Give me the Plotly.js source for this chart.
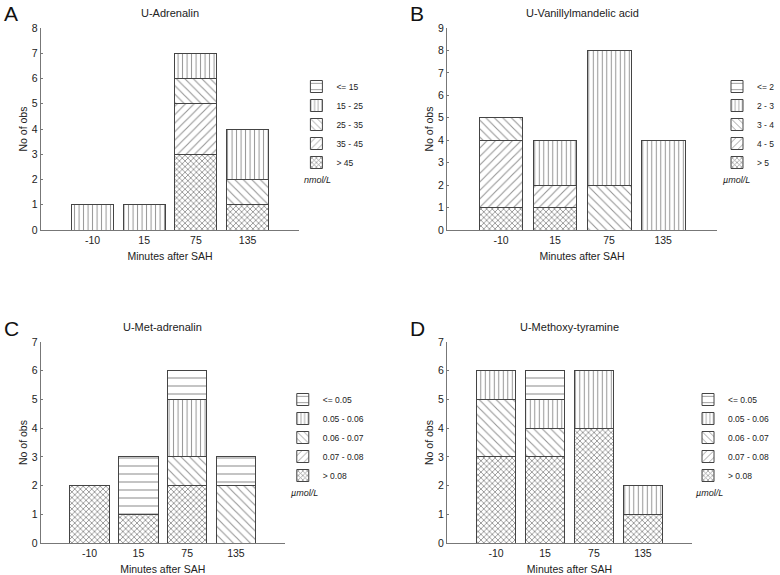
<!DOCTYPE html>
<html>
<head>
<meta charset="utf-8">
<script src="https://cdn.plot.ly/plotly-3.0.1.min.js"></script>
<style>
  html, body { margin: 0; padding: 0; background: #fff; }
  #plot { width: 780px; height: 575px; }
</style>
</head>
<body>
<div id="plot"></div>
<script>
// minutes after SAH, shared by the four panels
const categories = ['-10', '15', '75', '135'];

// bands listed bottom of stack first; the legend shows them reversed
const adrenalinLabels = ['> 45', '35 - 45', '25 - 35', '15 - 25', '<= 15'];
const adrenalinCounts = [
  [0, 0, 3, 1],
  [0, 0, 2, 0],
  [0, 0, 1, 1],
  [1, 1, 1, 2],
  [0, 0, 0, 0]
];

const vmaLabels = ['> 5', '4 - 5', '3 - 4', '2 - 3', '<= 2'];
const vmaCounts = [
  [1, 1, 0, 0],
  [3, 1, 0, 0],
  [1, 0, 2, 0],
  [0, 2, 6, 4],
  [0, 0, 0, 0]
];

const metLabels = ['> 0.08', '0.07 - 0.08', '0.06 - 0.07', '0.05 - 0.06', '<= 0.05'];
const metCounts = [
  [2, 1, 2, 0],
  [0, 0, 0, 0],
  [0, 0, 1, 2],
  [0, 0, 2, 0],
  [0, 2, 1, 1]
];

const mtyLabels = ['> 0.08', '0.07 - 0.08', '0.06 - 0.07', '0.05 - 0.06', '<= 0.05'];
const mtyCounts = [
  [3, 3, 4, 1],
  [0, 0, 0, 0],
  [2, 1, 0, 0],
  [1, 1, 2, 1],
  [0, 1, 0, 0]
];

//------------------------------------------------------------------------------

const font = 'Liberation Sans, Arial, sans-serif';
const ink = '#222';
// hatch per band, same order as the labels
const hatches = [
  { shape: 'x', size: 4, solidity: 0.4 },
  { shape: '/', size: 6, solidity: 0.18 },
  { shape: '\\', size: 6, solidity: 0.18 },
  { shape: '|', size: 4.5, solidity: 0.22 },
  { shape: '-', size: 8, solidity: 0.14 }
];

const panels = [
  { letter: 'A', title: 'U-Adrenalin', unit: 'nmol/L', labels: adrenalinLabels, counts: adrenalinCounts, ymax: 8,
    xd: [42, 308], yd: [28, 230], leg: [305, 72] },
  { letter: 'B', title: 'U-Vanillylmandelic acid', unit: 'µmol/L', labels: vmaLabels, counts: vmaCounts, ymax: 9,
    xd: [460, 738], yd: [28, 230], leg: [738, 72] },
  { letter: 'C', title: 'U-Met-adrenalin', unit: 'µmol/L', labels: metLabels, counts: metCounts, ymax: 7,
    xd: [42, 293], yd: [342, 543], leg: [291, 385] },
  { letter: 'D', title: 'U-Methoxy-tyramine', unit: 'µmol/L', labels: mtyLabels, counts: mtyCounts, ymax: 7,
    xd: [460, 712], yd: [342, 543], leg: [708, 385] }
];

const W = 780, H = 575;
const px = x => x / W;
const py = y => 1 - y / H;

const traces = [];
const layout = {
  width: W, height: H,
  margin: { l: 0, r: 0, t: 0, b: 0 },
  paper_bgcolor: '#fff', plot_bgcolor: '#fff',
  font: { family: font, color: ink, size: 10 },
  barmode: 'stack',
  bargap: 0.19,
  showlegend: true,
  annotations: []
};

panels.forEach((p, i) => {
  const s = i === 0 ? '' : String(i + 1);
  p.labels.forEach((label, k) => {
    traces.push({
      type: 'bar',
      x: categories,
      y: p.counts[k],
      name: label,
      xaxis: 'x' + s,
      yaxis: 'y' + s,
      legend: 'legend' + s,
      marker: {
        color: '#fff',
        line: { color: '#444', width: 1 },
        pattern: { shape: hatches[k].shape, size: hatches[k].size, solidity: hatches[k].solidity,
                   fgcolor: '#2a2a2a', bgcolor: '#fff', fillmode: 'overlay' }
      },
      hoverinfo: 'x+y+name'
    });
  });

  layout['xaxis' + s] = {
    domain: [px(p.xd[0]), px(p.xd[1])],
    anchor: 'y' + s,
    type: 'category',
    range: [-1, 4],
    showline: true, linecolor: '#777', linewidth: 1,
    ticks: '', showgrid: false, zeroline: false,
    tickfont: { size: 10.5 },
    title: { text: 'Minutes after SAH', font: { size: 10.5 }, standoff: 8 },
    automargin: false
  };
  layout['yaxis' + s] = {
    domain: [py(p.yd[1]), py(p.yd[0])],
    anchor: 'x' + s,
    range: [0, p.ymax],
    dtick: 1,
    showline: true, linecolor: '#777', linewidth: 1,
    ticks: 'inside', ticklen: 2, tickcolor: '#777',
    showgrid: false, zeroline: false,
    tickfont: { size: 10.5 },
    title: { text: 'No of obs', font: { size: 10.5 }, standoff: 2 },
    automargin: false
  };
  layout['legend' + s] = {
    x: px(p.leg[0]), y: py(p.leg[1]),
    xref: 'paper', yref: 'paper',
    xanchor: 'left', yanchor: 'top',
    traceorder: 'reversed',
    bgcolor: 'rgba(0,0,0,0)',
    font: { size: 8.5, family: font, color: ink },
    itemclick: false, itemdoubleclick: false
  };

  const cx = (p.xd[0] + p.xd[1]) / 2;
  const titleY = p.yd[0] - 15;
  layout.annotations.push(
    { text: p.title, x: px(cx), y: py(titleY), xref: 'paper', yref: 'paper',
      showarrow: false, xanchor: 'center', yanchor: 'middle', font: { size: 11 } },
    { text: p.letter, x: px(p.xd[0] - 40), y: py(titleY + 1), xref: 'paper', yref: 'paper',
      showarrow: false, xanchor: 'left', yanchor: 'middle', font: { size: 21, color: '#111' } },
    { text: '<i>' + p.unit + '</i>', x: px(Math.min(p.leg[0] + 6, 742)), y: py(p.leg[1] + 108), xref: 'paper', yref: 'paper',
      showarrow: false, xanchor: 'left', yanchor: 'middle', font: { size: 9 } }
  );
});

Plotly.newPlot('plot', traces, layout, { displayModeBar: false, staticPlot: true });
</script>
</body>
</html>
